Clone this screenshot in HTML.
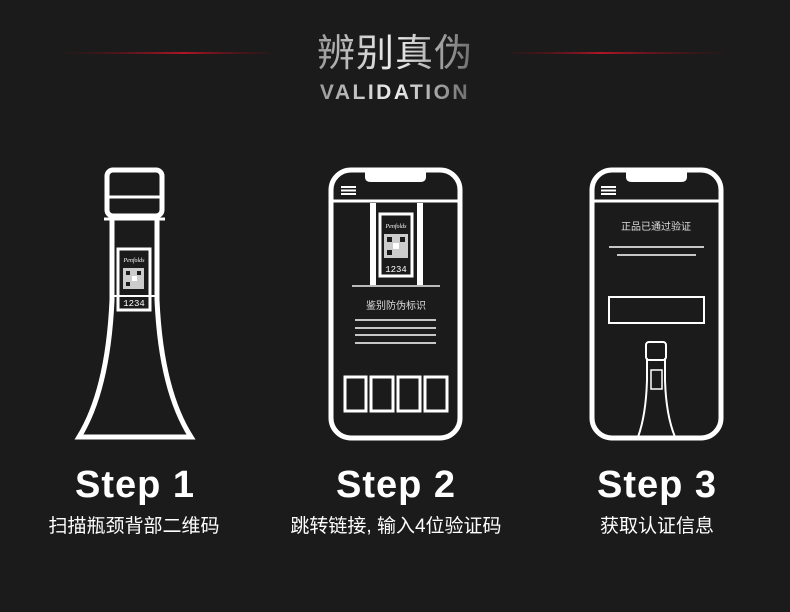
<!DOCTYPE html>
<html><head><meta charset="utf-8"><style>
html,body{margin:0;padding:0;background:#1b1b1b;}
body{width:790px;height:612px;overflow:hidden;position:relative;}
svg{position:absolute;left:0;top:0;}
</style></head><body>
<svg width="790" height="612" viewBox="0 0 790 612" xmlns="http://www.w3.org/2000/svg">
<defs>
<linearGradient id="tg" x1="0" y1="0" x2="1" y2="0">
<stop offset="0" stop-color="#9a9a9a"/><stop offset="0.5" stop-color="#f0f0f0"/><stop offset="1" stop-color="#6a6a6a"/>
</linearGradient>
<linearGradient id="rl" x1="0" y1="0" x2="1" y2="0">
<stop offset="0" stop-color="#5a0d14" stop-opacity="0"/><stop offset="0.6" stop-color="#b01525"/><stop offset="1" stop-color="#5a0d14" stop-opacity="0.2"/>
</linearGradient>
<linearGradient id="rr" x1="1" y1="0" x2="0" y2="0">
<stop offset="0" stop-color="#5a0d14" stop-opacity="0"/><stop offset="0.6" stop-color="#b01525"/><stop offset="1" stop-color="#5a0d14" stop-opacity="0.2"/>
</linearGradient>
</defs>
<rect x="55" y="52" width="215" height="2" fill="url(#rl)"/>
<rect x="512" y="52" width="223" height="2" fill="url(#rr)"/>
<text x="395" y="66" text-anchor="middle" font-family="Liberation Sans, Noto Sans CJK SC, sans-serif" font-size="38" fill="url(#tg)" letter-spacing="1">辨别真伪</text>
<text x="395" y="99" text-anchor="middle" font-family="Liberation Sans, sans-serif" font-size="21" font-weight="bold" fill="url(#tg)" letter-spacing="2.5">VALIDATION</text>

<g fill="none" stroke="#fff" stroke-width="5">
<rect x="107" y="170" width="55" height="46" rx="6"/>
<line x1="107" y1="197" x2="162" y2="197" stroke-width="3"/>
<path d="M112 220 L112 300 Q108 390 79 437 L191 437 Q161 390 157 300 L157 220" stroke-width="5"/>
<line x1="104" y1="219" x2="165" y2="219" stroke-width="3"/>
<rect x="118" y="249" width="32" height="61" stroke-width="3"/>
<line x1="112" y1="296" x2="157" y2="296" stroke-width="2"/>
<rect x="331" y="170" width="129" height="268" rx="20"/>
<path d="M365 172 L365 177 Q365 182 371 182 L420 182 Q426 182 426 177 L426 172" fill="#fff" stroke="none"/>
<line x1="333" y1="201" x2="458" y2="201" stroke-width="3"/>
<rect x="370" y="203" width="6" height="82" fill="#fff" stroke="none"/>
<rect x="417" y="203" width="6" height="82" fill="#fff" stroke="none"/>
<rect x="380" y="214" width="32" height="62" stroke-width="3"/>
<line x1="352" y1="286" x2="440" y2="286" stroke-width="2" stroke="#bbb"/>
<g stroke-width="1.5"><line x1="355" y1="320" x2="436" y2="320"/><line x1="355" y1="328" x2="436" y2="328"/><line x1="355" y1="335" x2="436" y2="335"/><line x1="355" y1="343" x2="436" y2="343"/></g>
<g stroke-width="3"><rect x="345" y="377" width="21" height="34"/><rect x="371" y="377" width="22" height="34"/><rect x="398" y="377" width="22" height="34"/><rect x="425" y="377" width="22" height="34"/></g>
<rect x="592" y="170" width="129" height="268" rx="20"/>
<path d="M626 172 L626 177 Q626 182 632 182 L681 182 Q687 182 687 177 L687 172" fill="#fff" stroke="none"/>
<line x1="594" y1="201" x2="719" y2="201" stroke-width="3"/>
<g stroke-width="1.5"><line x1="609" y1="247" x2="704" y2="247"/><line x1="617" y1="255" x2="696" y2="255"/></g>
<rect x="609" y="297" width="95" height="26" stroke-width="2"/>
<rect x="646" y="342" width="20" height="18" rx="3" stroke-width="2"/>
<path d="M647 358 L647 380 Q646 415 638 437 M665 358 L665 380 Q666 415 675 437" stroke-width="2"/>
<rect x="651" y="370" width="11" height="19" stroke-width="1.5"/>
</g>
<g fill="#fff">
<rect x="341" y="186" width="15" height="2"/><rect x="341" y="189.5" width="15" height="2"/><rect x="341" y="193" width="15" height="2"/>
<rect x="601" y="186" width="15" height="2"/><rect x="601" y="189.5" width="15" height="2"/><rect x="601" y="193" width="15" height="2"/>
</g>
<g fill="#ccc">
<rect x="123" y="268" width="21" height="21"/>
<rect x="384" y="234" width="24" height="24"/>
</g>
<g fill="#1b1b1b">
<rect x="126" y="271" width="4" height="4"/><rect x="137" y="271" width="4" height="4"/><rect x="126" y="282" width="4" height="4"/><rect x="132" y="276" width="5" height="5" fill="#fff"/>
<rect x="387" y="237" width="5" height="5"/><rect x="400" y="237" width="5" height="5"/><rect x="387" y="250" width="5" height="5"/><rect x="393" y="243" width="6" height="6" fill="#fff"/>
</g>
<g font-family="Liberation Serif, serif" font-style="italic" font-size="6" fill="#fff" text-anchor="middle">
<text x="134" y="262">Penfolds</text><text x="396" y="228">Penfolds</text>
</g>
<g font-family="Liberation Mono, monospace" font-size="9" fill="#fff" text-anchor="middle">
<text x="134" y="306">1234</text><text x="396" y="272">1234</text>
</g>
<g font-family="Liberation Sans, Noto Sans CJK SC, sans-serif" fill="#ddd" text-anchor="middle" font-size="10">
<text x="396" y="309">鉴别防伪标识</text>
<text x="656" y="230">正品已通过验证</text>
</g>
<g font-family="Liberation Sans, sans-serif" font-weight="bold" font-size="38" fill="#fff" text-anchor="middle" letter-spacing="1">
<text x="135" y="497">Step 1</text><text x="396" y="497">Step 2</text><text x="657" y="497">Step 3</text>
</g>
<g font-family="Liberation Sans, Noto Sans CJK SC, sans-serif" font-size="19" fill="#fff" text-anchor="middle">
<text x="134" y="532">扫描瓶颈背部二维码</text>
<text x="396" y="532">跳转链接, 输入4位验证码</text>
<text x="657" y="532">获取认证信息</text>
</g>
</svg>
</body></html>
